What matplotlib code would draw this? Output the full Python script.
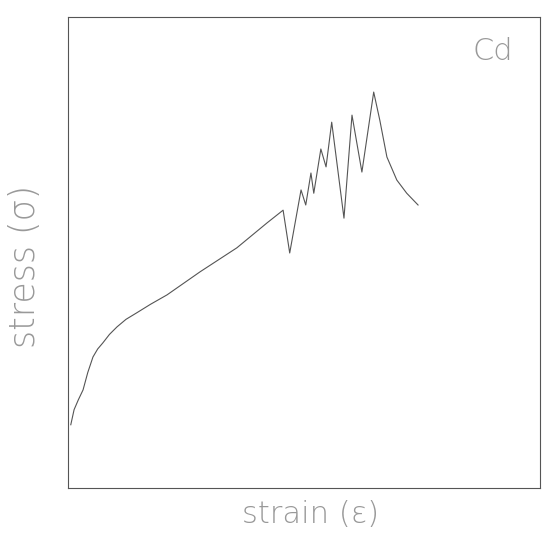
import matplotlib.pyplot as plt

# stress-strain curve for Cd (arbitrary units, 0-100)
strain = [0.6, 1.3, 2.2, 3.2, 4.2, 5.3, 6.3, 7.4, 8.8, 10.4, 12.3, 14.6, 17.5,
          21.0, 28.0, 35.8, 42.2, 45.6,
          47.0, 49.4, 50.4, 51.5, 52.1, 53.6, 54.7, 55.9, 58.5, 60.2, 62.3,
          64.8, 66.1, 67.6, 69.7, 71.8, 74.2]
stress = [13.4, 16.6, 18.7, 20.8, 24.5, 27.8, 29.5, 30.8, 32.6, 34.2, 35.8, 37.2, 39.0,
          41.0, 45.9, 51.0, 56.3, 59.0,
          49.9, 63.3, 60.1, 66.9, 62.6, 72.0, 68.2, 77.7, 57.3, 79.2, 67.1,
          84.1, 78.1, 70.3, 65.4, 62.6, 60.1]

fig = plt.figure(figsize=(5.48, 5.39), dpi=100)
ax = fig.add_axes([0.124, 0.095, 0.861, 0.873])

ax.plot(strain, stress, color="#555555", lw=0.8)

ax.set_xlim(0, 100)
ax.set_ylim(0, 100)
ax.set_xticks([])
ax.set_yticks([])
for sp in ax.spines.values():
    sp.set_color("#555555")
    sp.set_linewidth(0.8)

ax.set_xlabel("strain (ε)", fontsize=22, color="#999999", fontweight="light")
ax.set_ylabel("stress (σ)", fontsize=25, color="#999999", fontweight="light")
ax.xaxis.set_label_coords(0.515, -0.025, transform=ax.transAxes)
ax.yaxis.set_label_coords(-0.092, 0.47, transform=ax.transAxes)
ax.xaxis.label.set_va("top")
ax.yaxis.label.set_va("center")
ax.text(0.90, 0.927, "Cd", transform=ax.transAxes, fontsize=22, color="#999999",
        fontweight="light", ha="center", va="center")

fig.savefig("out.png", dpi=100)
